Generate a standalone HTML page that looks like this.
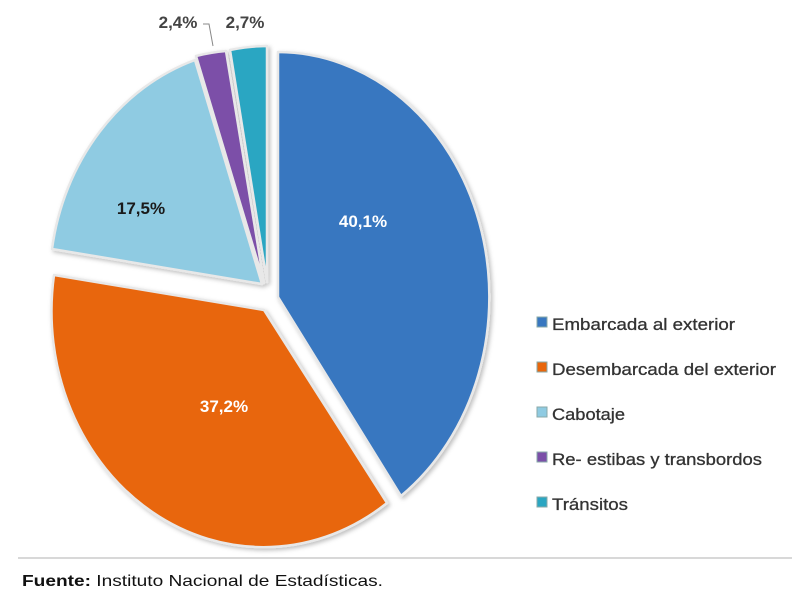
<!DOCTYPE html>
<html><head><meta charset="utf-8"><style>
body{margin:0;background:#fff;}
svg{display:block;font-family:"Liberation Sans",sans-serif;}
</style></head><body>
<svg width="798" height="597" viewBox="0 0 798 597" xmlns="http://www.w3.org/2000/svg">
<defs>
<filter id="sh" x="-10%" y="-10%" width="120%" height="120%"><feDropShadow dx="2" dy="2" stdDeviation="2" flood-color="#000" flood-opacity="0.25"/></filter>
</defs>
<g filter="url(#sh)" stroke="#e8e8e8" stroke-width="2.5" stroke-linejoin="round">
<path d="M278,297 L278,52 A212,245 0 0,1 401,496 Z" fill="#3877c0"/>
<path d="M264,310 L387,503 A212,236 0 0,1 54,275 Z" fill="#e8660c"/>
<path d="M262,284 L52,249 A212,236 0 0,1 195,60 Z" fill="#8fcbe2"/>
<path d="M264,283 L196,56 A212,236 0 0,1 226,51 Z" fill="#7b4fa8"/>
<path d="M267,282 L230,50 A212,236 0 0,1 267,46 Z" fill="#2ba6c2"/>
</g>
<g font-weight="bold" font-size="17">
<text x="363" y="227" fill="#fff" text-anchor="middle">40,1%</text>
<text x="224" y="412" fill="#fff" text-anchor="middle">37,2%</text>
<text x="141" y="214" fill="#1a1a1a" text-anchor="middle">17,5%</text>
<text x="178" y="28" fill="#444" text-anchor="middle">2,4%</text>
<text x="245" y="28" fill="#444" text-anchor="middle">2,7%</text>
</g>
<polyline points="203,24 209,24 213,46" fill="none" stroke="#888" stroke-width="1"/>
<g font-size="17" fill="#333" stroke="#333" stroke-width="0.3">
<rect x="537" y="317" width="10" height="10" fill="#3877c0" stroke="#8aa" stroke-width="1"/>
<text x="552" y="330" textLength="183" lengthAdjust="spacingAndGlyphs">Embarcada al exterior</text>
<rect x="537" y="362" width="10" height="10" fill="#e8660c" stroke="#8aa" stroke-width="1"/>
<text x="552" y="375" textLength="224" lengthAdjust="spacingAndGlyphs">Desembarcada del exterior</text>
<rect x="537" y="407" width="10" height="10" fill="#8fcbe2" stroke="#8aa" stroke-width="1"/>
<text x="552" y="420" textLength="73" lengthAdjust="spacingAndGlyphs">Cabotaje</text>
<rect x="537" y="452" width="10" height="10" fill="#7b4fa8" stroke="#8aa" stroke-width="1"/>
<text x="552" y="465" textLength="210" lengthAdjust="spacingAndGlyphs">Re- estibas y transbordos</text>
<rect x="537" y="497" width="10" height="10" fill="#2ba6c2" stroke="#8aa" stroke-width="1"/>
<text x="552" y="510" textLength="76" lengthAdjust="spacingAndGlyphs">Tránsitos</text>
</g>
<line x1="18" y1="558" x2="792" y2="558" stroke="#ccc" stroke-width="1.5"/>
<text x="22" y="586" font-size="16" fill="#111" textLength="361" lengthAdjust="spacingAndGlyphs"><tspan font-weight="bold">Fuente:</tspan> Instituto Nacional de Estadísticas.</text>
</svg>
</body></html>
